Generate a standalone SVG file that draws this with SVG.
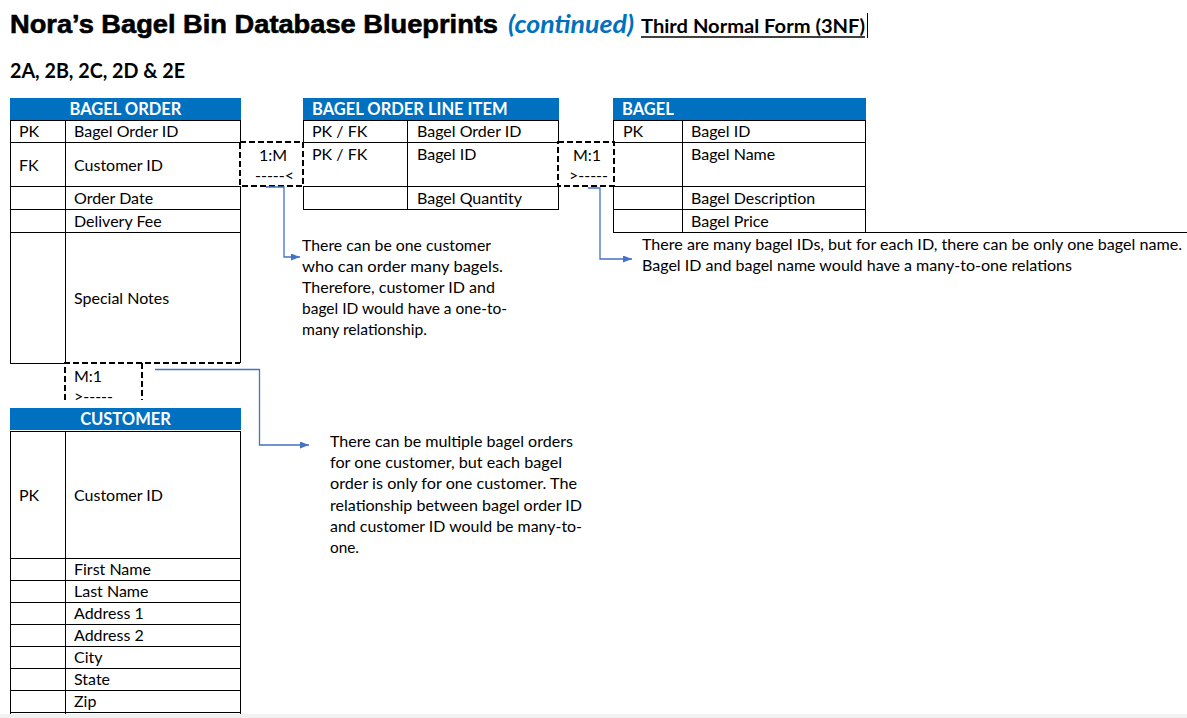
<svg xmlns="http://www.w3.org/2000/svg" width="1187" height="718" viewBox="0 0 1187 718">
<style>
.hdr{fill:#0070C0}
.ht{font-family:Lato,"Liberation Sans",sans-serif;font-weight:bold;font-size:16.5px;fill:#fff}
.t{font-family:Lato,"Liberation Sans",sans-serif;font-size:16px;fill:#000}
.ln{fill:none;stroke:#000;stroke-width:1}
.dash{fill:none;stroke:#000;stroke-width:2;stroke-dasharray:6 3}
.conn{fill:none;stroke:#4472C4;stroke-width:1.3;marker-end:url(#arr)}
</style>
<defs>
<marker id="arr" markerUnits="userSpaceOnUse" markerWidth="10" markerHeight="8" refX="9" refY="3.5" orient="auto">
<path d="M0,0 L9,3.5 L0,7 z" fill="#4472C4"/>
</marker>
</defs>
<rect width="1187" height="718" fill="#fff"/>
<rect x="0" y="714" width="1187" height="4" fill="#f1f1f1"/>

<g id="title">
<text x="10" y="33" font-family="'Liberation Sans',Arial,sans-serif" font-weight="bold" font-size="26" stroke="#000" stroke-width="0.6" textLength="488" lengthAdjust="spacingAndGlyphs">Nora’s Bagel Bin Database Blueprints</text>
<text x="508" y="33" font-family="Lato,'Liberation Sans',sans-serif" font-weight="bold" font-style="italic" font-size="24" fill="#0070C0" textLength="126" lengthAdjust="spacingAndGlyphs">(continued)</text>
<text x="641" y="33" font-family="Lato,'Liberation Sans',sans-serif" font-weight="bold" font-size="19" textLength="224" lengthAdjust="spacingAndGlyphs">Third Normal Form (3NF)</text>
<line x1="641" y1="37" x2="865" y2="37" stroke="#000" stroke-width="1.3"/>
<line x1="867.5" y1="13" x2="867.5" y2="38" stroke="#000" stroke-width="1"/>
<text x="10" y="78" font-family="Lato,'Liberation Sans',sans-serif" font-weight="bold" font-size="20" textLength="175" lengthAdjust="spacingAndGlyphs">2A, 2B, 2C, 2D &amp; 2E</text>
</g>

<g id="bagel-order">
<rect class="hdr" x="10" y="98" width="231" height="22"/>
<text class="ht" x="125.5" y="115" text-anchor="middle">BAGEL ORDER</text>
<path class="ln" d="M10.5 120V363 M240.5 120V142 M240.5 186V363 M65.5 120V363 M10 120.5H241 M10 142.5H241 M10 186.5H241 M10 209.5H241 M10 232.5H241 M10 363.5H65"/>
<text class="t" x="19" y="137">PK</text><text class="t" x="74" y="137">Bagel Order ID</text>
<text class="t" x="19" y="171">FK</text><text class="t" x="74" y="171">Customer ID</text>
<text class="t" x="74" y="204">Order Date</text>
<text class="t" x="74" y="227">Delivery Fee</text>
<text class="t" x="74" y="304">Special Notes</text>
</g>

<g id="line-item">
<rect class="hdr" x="303" y="98" width="256" height="22"/>
<text class="ht" x="312" y="115">BAGEL ORDER LINE ITEM</text>
<path class="ln" d="M303.5 120V142 M303.5 186V209 M558.5 120V142 M558.5 186V209 M407.5 120V209 M303 120.5H559 M303 142.5H559 M303 186.5H559 M303 209.5H559"/>
<text class="t" x="312" y="137">PK / FK</text><text class="t" x="417" y="137">Bagel Order ID</text>
<text class="t" x="312" y="160">PK / FK</text><text class="t" x="417" y="160">Bagel ID</text>
<text class="t" x="417" y="204">Bagel Quantity</text>
</g>

<g id="bagel">
<rect class="hdr" x="613" y="98" width="253" height="22"/>
<text class="ht" x="622" y="115">BAGEL</text>
<path class="ln" d="M613.5 120V142 M613.5 186V232 M865.5 120V232 M682.5 120V232 M613 120.5H866 M613 142.5H866 M613 186.5H866 M613 209.5H866 M613 232.5H1187"/>
<text class="t" x="623" y="137">PK</text><text class="t" x="691" y="137">Bagel ID</text>
<text class="t" x="691" y="160">Bagel Name</text>
<text class="t" x="691" y="204">Bagel Description</text>
<text class="t" x="691" y="227">Bagel Price</text>
</g>

<g id="customer">
<rect class="hdr" x="10" y="408" width="231" height="22"/>
<text class="ht" x="125.5" y="425" text-anchor="middle">CUSTOMER</text>
<path class="ln" d="M10.5 431V714 M65.5 431V714 M240.5 431V714 M10 431.5H241 M10 558.5H241 M10 580.5H241 M10 602.5H241 M10 624.5H241 M10 646.5H241 M10 668.5H241 M10 690.5H241 M10 712.5H241"/>
<text class="t" x="19" y="501">PK</text><text class="t" x="74" y="501">Customer ID</text>
<text class="t" x="74" y="575">First Name</text>
<text class="t" x="74" y="597">Last Name</text>
<text class="t" x="74" y="619">Address 1</text>
<text class="t" x="74" y="641">Address 2</text>
<text class="t" x="74" y="663">City</text>
<text class="t" x="74" y="685">State</text>
<text class="t" x="74" y="707">Zip</text>
</g>

<g id="rel-order-lineitem">
<rect class="dash" x="240" y="142" width="63" height="44"/>
<text class="t" x="259" y="161">1:M</text>
<text class="t" x="255" y="181" font-size="14">-----&lt;</text>
</g>

<g id="rel-lineitem-bagel">
<rect class="dash" x="558" y="142" width="56" height="44"/>
<text class="t" x="573" y="161">M:1</text>
<text class="t" x="569" y="181" font-size="14">&gt;-----</text>
</g>

<g id="rel-order-customer">
<path class="dash" d="M65 400V363H240 M142 363V400"/>
<text class="t" x="74" y="382">M:1</text>
<text class="t" x="74" y="402" font-size="14">&gt;-----</text>
</g>

<g id="note-1m">
<text class="t" x="302" y="251" textLength="189" lengthAdjust="spacingAndGlyphs">There can be one customer</text>
<text class="t" x="302" y="272" textLength="201" lengthAdjust="spacingAndGlyphs">who can order many bagels.</text>
<text class="t" x="302" y="293" textLength="193" lengthAdjust="spacingAndGlyphs">Therefore, customer ID and</text>
<text class="t" x="302" y="314" textLength="205" lengthAdjust="spacingAndGlyphs">bagel ID would have a one-to-</text>
<text class="t" x="302" y="335" textLength="125" lengthAdjust="spacingAndGlyphs">many relationship.</text>
</g>

<g id="note-m1">
<text class="t" x="642" y="250" textLength="540" lengthAdjust="spacingAndGlyphs">There are many bagel IDs, but for each ID, there can be only one bagel name.</text>
<text class="t" x="642" y="271" textLength="430" lengthAdjust="spacingAndGlyphs">Bagel ID and bagel name would have a many-to-one relations</text>
</g>

<g id="note-customer">
<text class="t" x="330" y="447" textLength="243" lengthAdjust="spacingAndGlyphs">There can be multiple bagel orders</text>
<text class="t" x="330" y="468" textLength="232" lengthAdjust="spacingAndGlyphs">for one customer, but each bagel</text>
<text class="t" x="330" y="489" textLength="247" lengthAdjust="spacingAndGlyphs">order is only for one customer. The</text>
<text class="t" x="330" y="510.5" textLength="252" lengthAdjust="spacingAndGlyphs">relationship between bagel order ID</text>
<text class="t" x="330" y="531.5" textLength="252" lengthAdjust="spacingAndGlyphs">and customer ID would be many-to-</text>
<text class="t" x="330" y="552.5" textLength="29" lengthAdjust="spacingAndGlyphs">one.</text>
</g>

<g id="connectors">
<path class="conn" d="M266 187H284V257H300"/>
<path class="conn" d="M588 188H600V259H632"/>
<path class="conn" d="M155 369.5H259.5V445H309"/>
</g>
</svg>
